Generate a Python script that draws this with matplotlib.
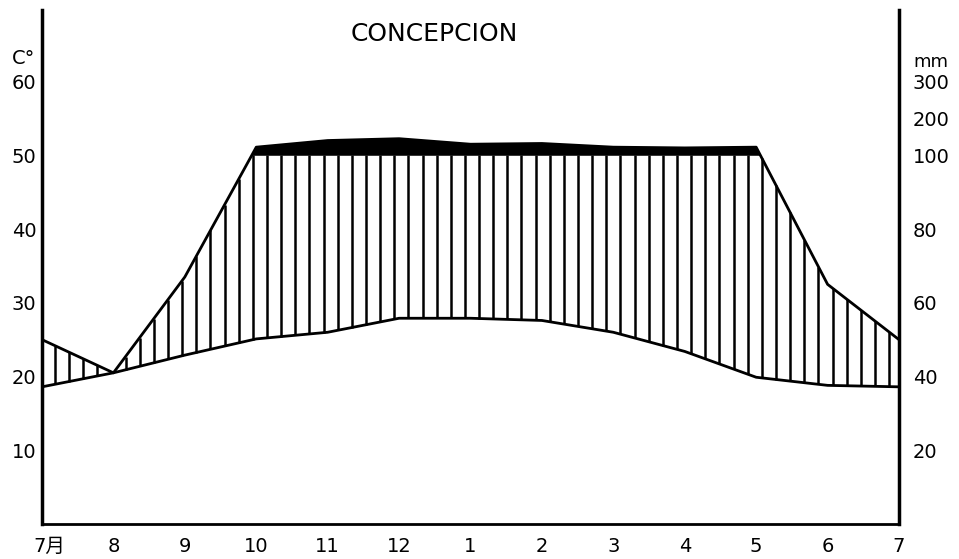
import numpy as np
import matplotlib.pyplot as plt
from matplotlib.transforms import ScaledTranslation

# month 7月 ... 7 repeats July so the curve closes on the right edge
plt.rcParams['font.family'] = ['DejaVu Sans', 'Noto Sans CJK JP']

month_labels = ['7月', '8', '9', '10', '11', '12', '1', '2', '3', '4', '5', '6', '7']
temp_c = [18.6, 20.5, 22.9, 25.1, 26.0, 27.9, 27.9, 27.6, 26.0, 23.4, 19.9, 18.8, 18.6]
prec_mm = [50, 41, 67, 122, 140, 145, 130, 132, 122, 120, 122, 65, 50]

left_ticks = [10, 20, 30, 40, 50, 60]
right_ticks = [10, 20, 30, 40, 50, 55, 60]
right_labels = ['20', '40', '60', '80', '100', '200', '300']


def mm_to_scale(mm):
    # Walter-Lieth: 10 C = 20 mm up to 100 mm, above that 10 C = 200 mm
    mm = np.asarray(mm, dtype=float)
    return np.where(mm <= 100, mm / 2, 50 + (mm - 100) / 20)


x = np.arange(len(month_labels))
temp = np.asarray(temp_c, dtype=float)
prec = mm_to_scale(prec_mm)

fig = plt.figure(figsize=(9.59, 5.59), dpi=100)
ax = fig.add_axes([42 / 959, 35 / 559, 857 / 959, 514 / 559])
ax.set_xlim(0, 12)
ax.set_ylim(0, 69.7)

# black band above 100 mm
xf = np.linspace(0, 12, 1201)
pf = np.interp(xf, x, prec)
ax.fill_between(xf, 50, pf, where=pf >= 50, interpolate=True, color='black', lw=0)

# vertical hatching for the humid period
xh = 0.18 + 0.198 * np.arange(60)
ph = np.minimum(np.interp(xh, x, prec), 50)
th = np.interp(xh, x, temp)
m = ph > th
ax.vlines(xh[m], th[m], ph[m], color='black', lw=1.8)

ax.plot(x, prec, color='black', lw=2)
ax.plot(x, temp, color='black', lw=2)

ax.spines['top'].set_visible(False)
ax.spines['left'].set_linewidth(2.5)
ax.spines['right'].set_linewidth(2.5)
ax.spines['bottom'].set_linewidth(2)

ax.set_xticks(x)
ax.set_xticklabels(month_labels, fontsize=14)
ax.set_yticks(left_ticks)
ax.set_yticklabels([str(t) for t in left_ticks], fontsize=14)
ax.tick_params(axis='x', length=0, pad=9)
ax.tick_params(axis='y', length=0, pad=4)
lab0 = ax.get_xticklabels()[0]
lab0.set_transform(lab0.get_transform() + ScaledTranslation(0.07, 0, fig.dpi_scale_trans))

ax2 = ax.twinx()
ax2.set_ylim(ax.get_ylim())
ax2.set_yticks(right_ticks)
ax2.set_yticklabels(right_labels, fontsize=14)
ax2.tick_params(axis='y', length=0, pad=10)
for s in ax2.spines.values():
    s.set_visible(False)

fig.text(434 / 959, 1 - 34 / 559, 'CONCEPCION', ha='center', va='center', fontsize=18)
fig.text(24 / 959, 1 - 58 / 559, 'C°', ha='center', va='center', fontsize=14)
fig.text(913 / 959, 1 - 62 / 559, 'mm', ha='left', va='center', fontsize=13)

fig.savefig('out.png', dpi=100)
